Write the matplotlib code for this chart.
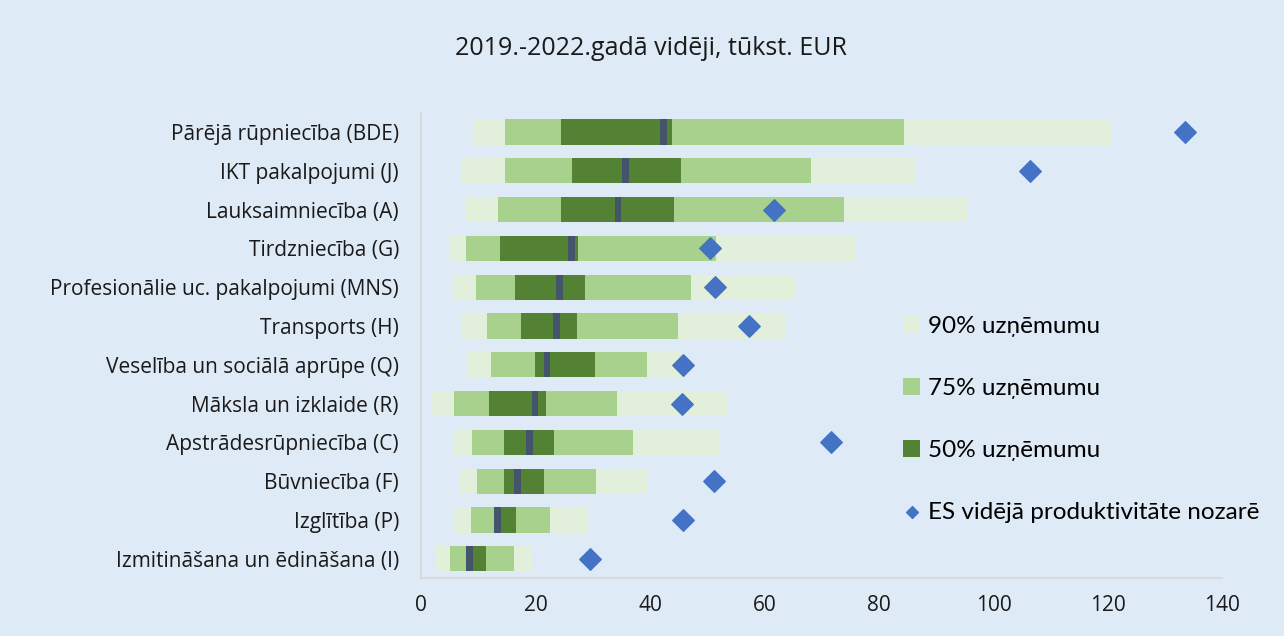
import matplotlib.pyplot as plt
import numpy as np

# nozares (no augšas uz leju)
nozares = ['Pārējā rūpniecība (BDE)', 'IKT pakalpojumi (J)', 'Lauksaimniecība (A)',
           'Tirdzniecība (G)', 'Profesionālie uc. pakalpojumi (MNS)', 'Transports (H)',
           'Veselība un sociālā aprūpe (Q)', 'Māksla un izklaide (R)',
           'Apstrādesrūpniecība (C)', 'Būvniecība (F)', 'Izglītība (P)',
           'Izmitināšana un ēdināšana (I)']

# 90% uzņēmumu robežas
p90_lo = [9.3, 6.9, 7.7, 4.8, 5.7, 7.2, 8.0, 1.8, 5.7, 6.7, 5.7, 2.6]
p90_hi = [120.7, 86.3, 95.5, 75.9, 65.3, 63.6, 45.5, 53.5, 52.1, 39.7, 28.9, 19.4]
# 75% uzņēmumu robežas
p75_lo = [14.6, 14.6, 13.5, 7.8, 9.5, 11.5, 12.2, 5.7, 8.8, 9.8, 8.7, 5.0]
p75_hi = [84.4, 68.2, 73.8, 51.5, 47.2, 44.9, 39.5, 34.3, 37.1, 30.6, 22.6, 16.3]
# 50% uzņēmumu robežas
p50_lo = [24.5, 26.3, 24.5, 13.8, 16.4, 17.4, 19.9, 11.9, 14.4, 14.5, 12.7, 7.9]
p50_hi = [43.9, 45.4, 44.1, 27.4, 28.7, 27.3, 30.4, 21.9, 23.3, 21.5, 16.5, 11.4]
# mediāna
mediana = [42.3, 35.7, 34.4, 26.3, 24.1, 23.7, 22.0, 19.9, 19.0, 16.9, 13.4, 8.5]
# ES vidējā produktivitāte nozarē
es_vid = [133.5, 106.3, 61.6, 50.4, 51.3, 57.3, 45.7, 45.5, 71.7, 51.2, 45.8, 29.5]

bg = '#DEEAF6'
c90 = '#E2EFDA'
c75 = '#A9D18E'
c50 = '#548235'
cmed = '#44546A'
cdia = '#4472C4'

plt.rcParams['font.family'] = ['Open Sans', 'DejaVu Sans']

fig = plt.figure(figsize=(12.84, 6.36), dpi=100, facecolor=bg)
ax = fig.add_axes([0.328, 0.091, 0.624, 0.732], facecolor=bg)

y = np.arange(len(nozares))
h = 0.65
lo90, hi90 = np.array(p90_lo), np.array(p90_hi)
lo75, hi75 = np.array(p75_lo), np.array(p75_hi)
lo50, hi50 = np.array(p50_lo), np.array(p50_hi)

b90 = ax.barh(y, hi90 - lo90, left=lo90, height=h, color=c90, label='90% uzņēmumu')
b75 = ax.barh(y, hi75 - lo75, left=lo75, height=h, color=c75, label='75% uzņēmumu')
b50 = ax.barh(y, hi50 - lo50, left=lo50, height=h, color=c50, label='50% uzņēmumu')
ax.barh(y, 1.2, left=np.array(mediana) - 0.6, height=h, color=cmed)
dia = ax.scatter(es_vid, y, marker='D', s=120, color=cdia, zorder=3,
                 label='ES vidējā produktivitāte nozarē')

ax.set_xlim(0, 140)
ax.set_ylim(len(nozares) - 0.5, -0.5)
ax.set_xticks(np.arange(0, 141, 20))
ax.set_yticks(y)
ax.set_yticklabels(nozares)
ax.tick_params(axis='both', length=0, labelsize=15, colors='#1a1a1a')
ax.tick_params(axis='y', pad=16)
ax.tick_params(axis='x', pad=12)
for s in ['top', 'right']:
    ax.spines[s].set_visible(False)
for s in ['left', 'bottom']:
    ax.spines[s].set_color('#D9D9D9')
    ax.spines[s].set_linewidth(1.5)

fig.suptitle('2019.-2022.gadā vidēji, tūkst. EUR', x=0.507, y=0.944,
             fontsize=18, color='#1a1a1a')

leg = fig.legend([b90, b75, b50, dia],
                 ['90% uzņēmumu', '75% uzņēmumu', '50% uzņēmumu',
                  'ES vidējā produktivitāte nozarē'],
                 loc='upper left', bbox_to_anchor=(0.696, 0.518),
                 frameon=False, handlelength=0.7, handleheight=0.7,
                 handletextpad=0.3, labelspacing=1.68, borderaxespad=0,
                 markerscale=0.55, prop={'family': 'Lato', 'size': 17.5})

fig.savefig('out.png', dpi=100, facecolor=bg)
